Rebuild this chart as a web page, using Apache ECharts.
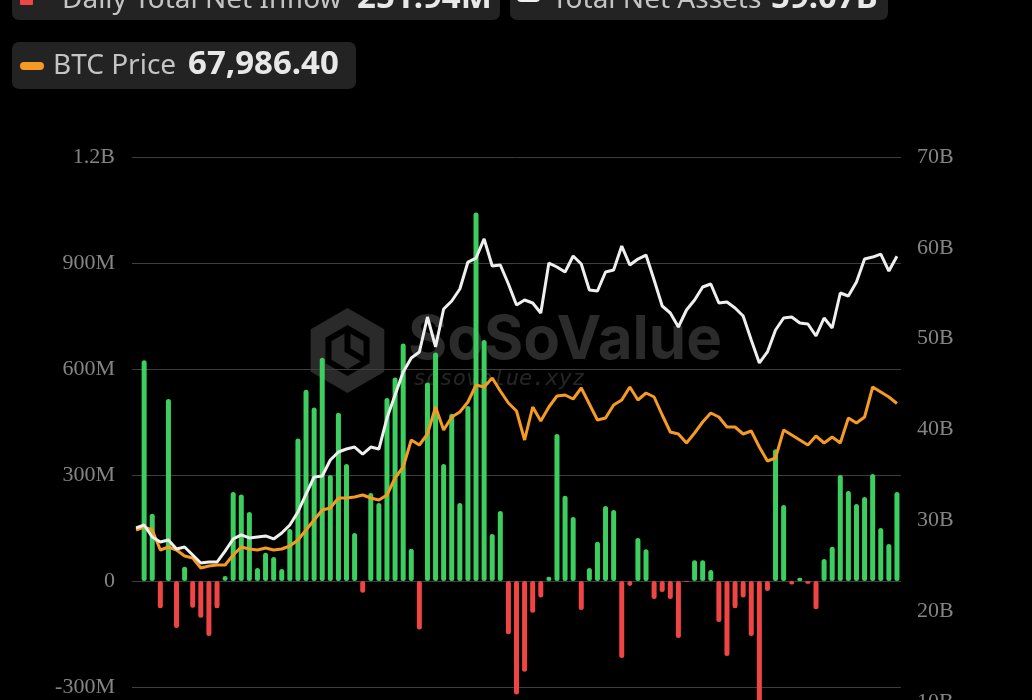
<!DOCTYPE html>
<html>
<head>
<meta charset="utf-8">
<script src="https://cdn.jsdelivr.net/npm/echarts@6/dist/echarts.min.js"></script>
<style>
html,body{margin:0;padding:0;background:#000;overflow:hidden;}
#chart{width:1032px;height:900px;}
</style>
</head>
<body>
<div id="chart"></div>
<script>
// Trading days (2024), first point has no flow bar
const dates = [
'01-10','01-11','01-12','01-16','01-17','01-18','01-19','01-22','01-23','01-24','01-25','01-26','01-29','01-30','01-31',
'02-01','02-02','02-05','02-06','02-07','02-08','02-09','02-12','02-13','02-14','02-15','02-16','02-20','02-21','02-22','02-23','02-26','02-27','02-28','02-29',
'03-01','03-04','03-05','03-06','03-07','03-08','03-11','03-12','03-13','03-14','03-15','03-18','03-19','03-20','03-21','03-22','03-25','03-26','03-27','03-28',
'04-01','04-02','04-03','04-04','04-05','04-08','04-09','04-10','04-11','04-12','04-15','04-16','04-17','04-18','04-19','04-22','04-23','04-24','04-25','04-26','04-29','04-30',
'05-01','05-02','05-03','05-06','05-07','05-08','05-09','05-10','05-13','05-14','05-15','05-16','05-17','05-20','05-21','05-22','05-23','05-24'
];
// Daily Total Net Inflow, in millions USD
const inflowM = [null,
625, 190, -77, 515, -133, 40, -76, -104, -156, -77,
14, 252, 245, 195, 37, 80, 68, 34, 147, 403,
541, 491, 632, 300, 476, 331, 136, -33, 249, 221,
518, 576, 672, 91, -137, 562, 647, 331, 473, 221,
495, 1043, 682, 133, 198, -151, -321, -257, -90, -47,
12, 416, 241, 181, -82, 37, 111, 212, 201, -218,
-14, 122, 90, -51, -31, -51, -161, -2, 59, 59,
31, -116, -212, -77, -47, -156, -564, -28, 373, 215,
-10, 9, -8, -80, 62, 97, 300, 255, 218, 238,
303, 150, 105, 251.94];
// Total Net Assets, in billions USD
const netAssetsB = [
29.17, 29.5, 28.18, 27.63, 27.85, 26.86, 27.08, 26.2, 25.31, 25.42,
25.42, 26.63, 27.96, 28.4, 28.07, 28.18, 28.29, 27.96, 28.62, 29.5,
30.93, 32.9, 34.78, 34.89, 36.65, 37.53, 37.86, 38.08, 37.31, 38.08,
37.86, 41.27, 43.8, 46.34, 47.88, 48.54, 52.39, 49.09, 53.27, 54.15,
55.47, 58.44, 58.88, 60.98, 58.0, 58.11, 56.02, 53.71, 54.26, 53.93,
52.83, 58.33, 57.89, 57.34, 59.1, 58.22, 55.36, 55.25, 57.34, 57.56,
60.2, 58.11, 58.77, 59.21, 56.46, 53.6, 52.83, 51.29, 53.16, 54.26,
55.69, 56.02, 53.93, 54.04, 53.38, 52.5, 49.86, 47.33, 48.54, 50.96,
52.28, 52.39, 51.73, 51.62, 50.3, 52.28, 51.18, 55.03, 54.7, 56.24,
58.77, 58.99, 59.32, 57.45, 59.07];
// BTC Price, USD
const btcPrice = [
45901, 46425, 45901, 42411, 42934, 42411, 41364, 41015, 39270, 39619,
39793, 39793, 41538, 42934, 42585, 42411, 42760, 42411, 42585, 43109,
44156, 45901, 47647, 49392, 49741, 51486, 51486, 51661, 52010, 51486,
51137, 52010, 54977, 56897, 61609, 60736, 62656, 67369, 63355, 65623,
66496, 68241, 71208, 70859, 72430, 70161, 68067, 66670, 61609, 67369,
64925, 67369, 69290, 69464, 68766, 70685, 67892, 65100, 65449, 67718,
68590, 70859, 68590, 69812, 69114, 65972, 63005, 62656, 61086, 62831,
64751, 66321, 65623, 63878, 63878, 62656, 63180, 60387, 57944, 58468,
63355, 62482, 61609, 60736, 62307, 61086, 62133, 61086, 65449, 64576,
65623, 70859, 69986, 69114, 67986.40];

const legendItems = [
  {label: 'Daily Total Net Inflow', value: '251.94M'},
  {label: 'Total Net Assets', value: '59.07B'},
  {label: 'BTC Price', value: '67,986.40'}
];

const GREEN = '#3ccf5f', RED = '#f04545', WHITE = '#efefef', ORANGE = '#f59a23';
const LABEL_FONT = '"Liberation Serif", "DejaVu Serif", serif';
const UI_FONT = '"Noto Sans", "Open Sans", sans-serif';

function hexPoints(cx, cy, r) {
  const pts = [];
  for (let k = 0; k < 6; k++) {
    const a = Math.PI / 2 + k * Math.PI / 3;
    pts.push([cx + r * Math.cos(a), cy - r * Math.sin(a)]);
  }
  return pts;
}

const chart = echarts.init(document.getElementById('chart'), null, {renderer: 'canvas'});

const LBL = '28px ' + UI_FONT, VAL = 'bold 33px ' + UI_FONT;
const graphics = [
  // legend boxes
  {type:'rect', z:10, shape:{x:12, y:-27, width:488, height:47, r:7}, style:{fill:'#232323'}},
  {type:'rect', z:11, shape:{x:20, y:-8, width:13, height:13, r:1}, style:{fill:RED}},
  {type:'text', z:11, style:{text:legendItems[0].label, x:62, y:0, font:LBL, fill:'#c4c4c4', textVerticalAlign:'middle'}},
  {type:'text', z:11, style:{text:legendItems[0].value, x:357, y:-1, font:VAL, fill:'#e8e8e8', textVerticalAlign:'middle'}},

  {type:'rect', z:10, shape:{x:510, y:-27, width:378, height:47, r:7}, style:{fill:'#232323'}},
  {type:'rect', z:11, shape:{x:517, y:-6, width:23, height:8, r:4}, style:{fill:WHITE}},
  {type:'text', z:11, style:{text:legendItems[1].label, x:552, y:0, font:LBL, fill:'#c4c4c4', textVerticalAlign:'middle'}},
  {type:'text', z:11, style:{text:legendItems[1].value, x:771, y:-1, font:VAL, fill:'#e8e8e8', textVerticalAlign:'middle'}},

  {type:'rect', z:10, shape:{x:12, y:42, width:344, height:47, r:7}, style:{fill:'#232323'}},
  {type:'rect', z:11, shape:{x:20, y:62, width:24, height:8, r:4}, style:{fill:ORANGE}},
  {type:'text', z:11, style:{text:legendItems[2].label, x:53, y:66, font:LBL, fill:'#c4c4c4', textVerticalAlign:'middle'}},
  {type:'text', z:11, style:{text:legendItems[2].value, x:188, y:65, font:VAL, fill:'#e8e8e8', textVerticalAlign:'middle'}},

  // watermark
  {type:'polygon', z:0, shape:{points:hexPoints(347.5, 350.5, 42.5)}, style:{fill:'#2a2a2a'}},
  {type:'polygon', z:0, shape:{points:hexPoints(347.5, 350.5, 22)}, style:{fill:'none', stroke:'#000', lineWidth:6}},
  {type:'polyline', z:0, shape:{points:[[347.5,328],[347.5,350],[366,361]]}, style:{stroke:'#000', lineWidth:6, fill:'none'}},
  {type:'text', z:0, style:{text:'SoSoValue', x:408, y:341, font:'bold 60px Inter, "Noto Sans", sans-serif', fill:'#2b2b2b', textVerticalAlign:'middle'}},
  {type:'text', z:0, style:{text:'sosovalue.xyz', x:413, y:379, font:'italic 22px "DejaVu Sans Mono", monospace', fill:'#262626', textVerticalAlign:'middle'}}
];

const option = {
  backgroundColor: '#000',
  animation: false,
  graphic: graphics,
  grid: {left: 132, right: 131, top: 157, bottom: 107},
  xAxis: {
    type: 'category', data: dates, boundaryGap: true,
    axisLine: {show: false}, axisTick: {show: false}, axisLabel: {show: false}, splitLine: {show: false}
  },
  yAxis: [
    {
      type: 'value', position: 'left', min: -600, max: 1200, interval: 300,
      axisLine: {show: false}, axisTick: {show: false},
      splitLine: {show: true, lineStyle: {color: '#3d3d3d', width: 1}},
      axisLabel: {
        color: '#858585', fontFamily: LABEL_FONT, fontSize: 22, margin: 17,
        formatter: v => v === 0 ? '0' : (Math.abs(v) >= 1000 ? (v / 1000) + 'B' : v + 'M')
      }
    },
    {
      type: 'value', position: 'right', min: 0, max: 70, interval: 10,
      axisLine: {show: false}, axisTick: {show: false}, splitLine: {show: false},
      axisLabel: {color: '#858585', fontFamily: LABEL_FONT, fontSize: 22, margin: 16, formatter: v => v + 'B'}
    },
    {
      type: 'value', show: false, min: 0, max: 111000,
      splitLine: {show: false}
    }
  ],
  series: [
    {
      name: 'Daily Total Net Inflow', type: 'bar', yAxisIndex: 0, data: inflowM,
      barWidth: 5, z: 2,
      itemStyle: {
        borderRadius: 2.5,
        color: p => (p.value >= 0 ? GREEN : RED)
      }
    },
    {
      name: 'Total Net Assets', type: 'line', yAxisIndex: 1, data: netAssetsB,
      symbol: 'none', z: 4, lineStyle: {color: WHITE, width: 3}
    },
    {
      name: 'BTC Price', type: 'line', yAxisIndex: 2, data: btcPrice,
      symbol: 'none', z: 3, lineStyle: {color: ORANGE, width: 3}
    }
  ]
};
chart.setOption(option);
</script>
</body>
</html>
